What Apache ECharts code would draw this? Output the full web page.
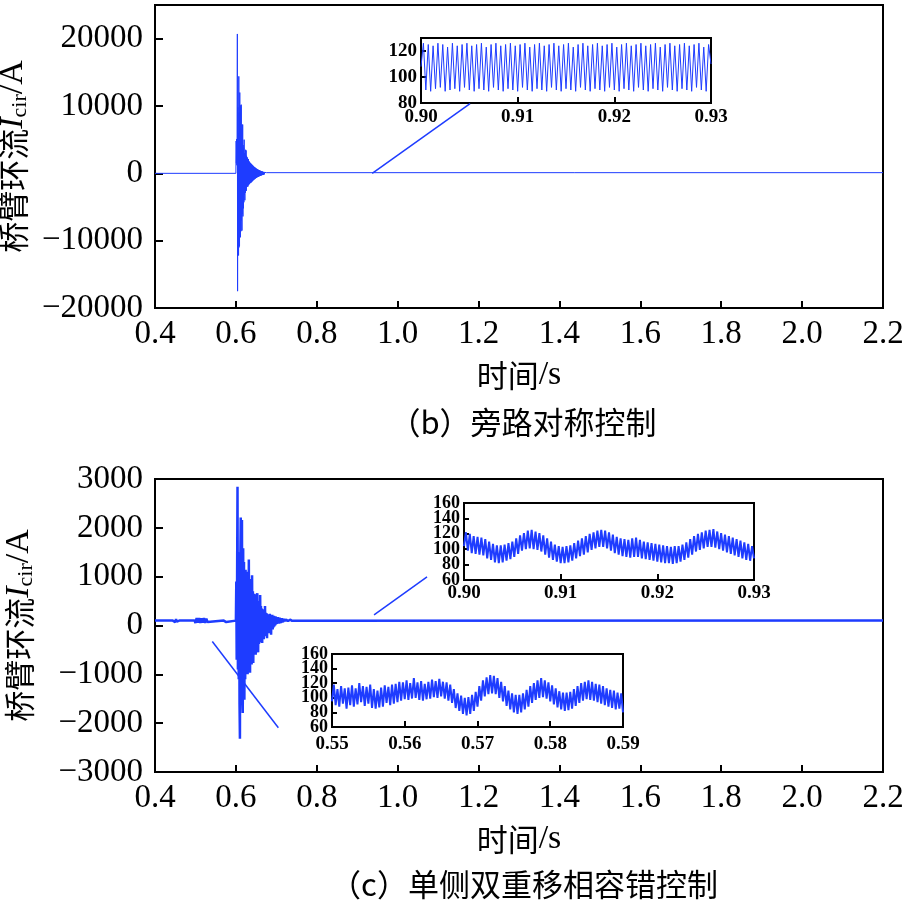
<!DOCTYPE html>
<html><head><meta charset="utf-8">
<script src="https://cdn.jsdelivr.net/npm/echarts/dist/echarts.min.js"></script>
<style>html,body{margin:0;padding:0;background:#fff}#c{width:904px;height:904px}</style>
</head><body><div id="c"></div>
<script>
// ---------------- DATA ----------------
// (b) bypass symmetric control - main trace
const bPre = [[0.4, 0], [0.6, 0]];
const bBurstStart = 0.6006, bBurstStep = 0.0006;
const bBurst = [4800, 1500, 5100, 1200, 4600, 20700, -17500, 9800, -9600, 6000,
  -12200, 14400, -11000, 9000, -10800, 12000, -8000, 10100, -9500, 9900,
  -8600, 10200, -7000, 6500, -8500, 7200, -6000, 7250, -6400, 4200,
  -5200, 3800, -4300, 5000, -3200, 3000, -4000, 2500, -2900, 3500,
  -2200, 3400, -2600, 2600, -2000, 2400, -1900, 2300, -2000, 2000,
  -1800, 2100, -1700, 1800, -1600, 1700, -1500, 1600, -1450, 1500,
  -1400, 1450, -1350, 1350, -1250, 1300, -1200, 1200, -1100, 1150,
  -1050, 1050, -980, 1000, -920, 940, -860, 880, -800, 820,
  -740, 760, -700, 700, -650, 660, -600, 610, -560, 570,
  -520, 530, -480, 490, -450, 450, -420, 420, -380, 390,
  -350, 360, -320, 330, -300, 300, -270, 270, -250, 250,
  -220, 230, -200, 200, -180, 180, -150, 150, -120, 120,
  -90, 90, -50, 0];
const bPost = [[0.676, 100], [2.2, 100]];
// (b) inset 0.90-0.93 s
const bInsetRange = [0.90, 0.93];
const bInset = [108, 126, 90, 125, 89, 124, 91, 126, 92, 125, 89, 123, 90, 126, 91, 124, 89, 125, 92, 126,
  90, 124, 89, 125, 91, 126, 90, 123, 89, 125, 92, 126, 90, 124, 89, 125, 91, 126, 90, 124,
  89, 125, 92, 126, 90, 123, 89, 125, 91, 126, 90, 124, 89, 125, 92, 126, 90, 124, 89, 125,
  91, 126, 90, 123, 89, 125, 92, 126, 90, 124, 89, 125, 91, 126, 90, 124, 89, 125, 92, 126,
  90, 123, 89, 125, 91, 126, 90, 124, 89, 125, 92, 126, 90, 124, 89, 125, 91, 126, 90, 123,
  89, 125, 92, 126, 90, 124, 89, 125, 91, 126, 90, 124, 89, 125, 92, 126, 90, 123, 89, 125, 110];
const bLink = [[0.937, 0], [1.179, 10340]];

// (c) single-side double phase-shift fault-tolerant control - main trace
const cPre = [[0.400, 100], [0.444, 100], [0.446, 60], [0.448, 140], [0.450, 70], [0.452, 130], [0.454, 80],
  [0.456, 120], [0.460, 100], [0.498, 100], [0.500, 50], [0.503, 150], [0.506, 60], [0.509, 150],
  [0.512, 50], [0.515, 145], [0.518, 60], [0.521, 150], [0.524, 55], [0.527, 140], [0.530, 70],
  [0.532, 100], [0.570, 100], [0.572, 60], [0.574, 140], [0.576, 70], [0.578, 100], [0.600, 100]];
const cBurstStart = 0.601, cBurstStep = 0.001;
const cBurst = [900, -700, 1000, 2840, -900, 1200, -1100, 1500, -1600, -2320,
  1400, 2210, -1300, 1600, 2160, -1500, -1790, 1580, -1200, 1300,
  -1520, 1000, -1100, 1140, -1000, 1100, -970, 900, -1000, 1000,
  -800, 1350, -900, 950, -970, 800, -700, 900, -800, 1030,
  -650, 700, -770, 600, -600, 650, -550, 550, -600, 500,
  -450, 600, 660, -400, -550, 450, -380, 500, -350, 625,
  -300, 400, -330, 350, -360, 330, -250, 300, -280, 320,
  -220, 400, -200, 260, -180, 250, -260, 230, -150, 220,
  -120, 200, -160, 240, -100, 190, -190, 200, -60, 220,
  -80, 180, -40, 200, -20, 180, 0, 190, 20, 170,
  30, 160, 40, 170, 50, 150, 40, 160, 60, 150,
  50, 140, 70, 150, 60, 140, 70, 130, 80, 140,
  80, 130, 80, 125, 85, 130, 85, 120, 90, 120,
  90, 115, 90, 120, 95, 115, 95, 110, 95, 110];
const cPost = [[0.742, 100], [2.2, 100]];
// (c) inset 1: 0.90-0.93 s
const c1Range = [0.90, 0.93];
const c1Inset = [104, 122, 98, 120, 95, 117, 94, 116, 93, 115, 92, 113, 88, 110, 86, 107, 83, 105, 82, 105,
  83, 106, 85, 108, 87, 110, 90, 114, 94, 118, 98, 121, 100, 124, 101, 125, 100, 123, 99, 121,
  97, 118, 93, 114, 89, 110, 86, 106, 84, 104, 82, 103, 82, 104, 83, 105, 85, 108, 88, 111,
  91, 114, 93, 117, 96, 120, 99, 122, 101, 124, 103, 125, 103, 124, 101, 122, 98, 119, 95, 116,
  93, 114, 91, 113, 90, 112, 89, 114, 90, 115, 90, 112, 88, 110, 87, 109, 86, 108, 85, 107,
  84, 106, 83, 105, 82, 104, 82, 103, 81, 104, 82, 104, 84, 106, 86, 109, 89, 113, 93, 117,
  97, 120, 99, 122, 101, 124, 103, 125, 103, 126, 102, 123, 100, 121, 98, 119, 96, 117, 94, 115,
  92, 113, 90, 111, 88, 109, 86, 107, 85, 104, 88];
const c1Link = [[0.9416, 218], [1.0726, 994]];
// (c) inset 2: 0.55-0.59 s
const c2Range = [0.55, 0.59];
const c2Inset = [95, 118, 90, 112, 88, 116, 92, 113, 85, 114, 90, 117, 88, 113, 91, 120, 94, 116, 89, 115,
  92, 118, 86, 112, 85, 110, 87, 114, 88, 117, 93, 115, 90, 118, 92, 119, 94, 122, 96, 121,
  98, 124, 97, 120, 99, 127, 100, 121, 97, 123, 96, 119, 98, 122, 99, 125, 101, 123, 100, 126,
  102, 122, 99, 121, 96, 118, 93, 112, 86, 106, 82, 103, 78, 100, 76, 101, 78, 104, 82, 108,
  88, 116, 96, 124, 102, 128, 105, 131, 106, 130, 105, 127, 100, 122, 95, 116, 89, 110, 84, 106,
  80, 104, 78, 104, 80, 106, 84, 111, 88, 116, 93, 120, 97, 124, 100, 127, 101, 124, 99, 121,
  95, 117, 91, 113, 87, 109, 84, 107, 82, 107, 83, 108, 85, 112, 89, 116, 93, 120, 96, 122,
  98, 124, 97, 122, 96, 119, 94, 118, 92, 116, 90, 113, 88, 111, 86, 110, 84, 107, 85, 106, 80];
const c2Link = [[0.5417, -327], [0.705, -2094]];

// ---------------- BUILD ----------------
const BLUE = '#1e3cff';
const SERIF = '"Liberation Serif", "Times New Roman", serif';
const CJK = '"Noto Sans CJK SC", sans-serif';
const fromStep = (t0, dt, vals) => vals.map((v, i) => [+(t0 + dt * i).toFixed(6), v]);
const fromRange = (r, vals) => vals.map((v, i) => [r[0] + (r[1] - r[0]) * i / (vals.length - 1), v]);
const minus = v => String(v).replace('-', '\u2212');

const bMain = bPre.concat(fromStep(bBurstStart, bBurstStep, bBurst), bPost);
const cMain = cPre.concat(fromStep(cBurstStart, cBurstStep, cBurst), cPost);

const blk = '#000';
function mainX(gi) {
  return {
    gridIndex: gi, type: 'value', min: 0.4, max: 2.2, interval: 0.2,
    name: '{c|时间}{r|/s}', nameLocation: 'middle', nameGap: 50,
    nameTextStyle: { rich: { c: { fontSize: 31, fontFamily: CJK, color: blk }, r: { fontSize: 34, fontFamily: SERIF, color: blk } } },
    axisLine: { show: true, onZero: false, lineStyle: { color: blk, width: 2 } },
    axisTick: { inside: true, length: 7, lineStyle: { color: blk, width: 2 } },
    axisLabel: { fontSize: 33, fontFamily: SERIF, color: blk, margin: 10, formatter: v => v.toFixed(1) },
    splitLine: { show: false }
  };
}
function mainY(gi, min, max, interval, top) {
  return {
    gridIndex: gi, type: 'value', min, max, interval,
    name: '{a|桥臂环流}{i|I}{s|cir}{b|/A}', nameLocation: 'middle', nameRotate: 90, nameGap: 118,
    nameTextStyle: { rich: {
      a: { fontSize: 31, fontFamily: CJK, color: blk, lineHeight: 36 },
      i: { fontSize: 34, fontFamily: SERIF, fontStyle: 'italic', color: blk, lineHeight: 36 },
      s: { fontSize: 22, fontFamily: SERIF, color: blk, verticalAlign: 'bottom', lineHeight: 36, padding: [14, 0, 0, 0] },
      b: { fontSize: 34, fontFamily: SERIF, color: blk, lineHeight: 36 } } },
    axisLine: { show: true, onZero: false, lineStyle: { color: blk, width: 2 } },
    axisTick: { inside: true, length: 8, lineStyle: { color: blk, width: 2 } },
    axisLabel: { fontSize: 33, fontFamily: SERIF, color: blk, margin: 12, formatter: v => v > top ? '' : minus(v) },
    splitLine: { show: false }
  };
}
function insetX(gi, min, max, margin) {
  return {
    gridIndex: gi, type: 'value', min, max, interval: 0.01,
    axisLine: { show: true, onZero: false, lineStyle: { color: blk, width: 2 } },
    axisTick: { inside: true, length: 6, lineStyle: { color: blk, width: 2 } },
    axisLabel: { fontSize: 19, fontWeight: 'bold', fontFamily: SERIF, color: blk, margin,
      showMinLabel: true, showMaxLabel: true, formatter: v => v.toFixed(2) },
    splitLine: { show: false }
  };
}
// keep: predicate deciding which tick values get a label on this axis
function insetY(gi, min, max, fs, keep, showLine) {
  return {
    gridIndex: gi, type: 'value', position: 'left', offset: 0, min, max, interval: 20,
    axisLine: { show: showLine, onZero: false, lineStyle: { color: blk, width: 2 } },
    axisTick: { show: showLine, inside: true, length: 5, lineStyle: { color: blk, width: 2 } },
    axisLabel: { fontSize: fs, fontWeight: 'bold', fontFamily: SERIF, color: blk, margin: 4,
      showMinLabel: true, showMaxLabel: true, formatter: v => keep(v) ? String(v) : '' },
    splitLine: { show: false }
  };
}
const gridBase = { show: true, borderColor: blk, borderWidth: 2, backgroundColor: '#fff', containLabel: false, outerBoundsMode: 'none' };
const line = (xi, yi, data, w) => ({
  type: 'line', xAxisIndex: xi, yAxisIndex: yi, data, showSymbol: false, symbol: 'none',
  lineStyle: { color: BLUE, width: w }, itemStyle: { color: BLUE }, animation: false, silent: true
});
const evenA = v => (v - 60) % 40 === 0;   // 60, 100, 140
const evenB = v => (v - 80) % 40 === 0;   // 80, 120, 160

const option = {
  animation: false,
  backgroundColor: '#fff',
  grid: [
    Object.assign({ left: 155, top: 5, width: 728, height: 303 }, gridBase),
    Object.assign({ left: 421, top: 38, width: 290, height: 65 }, gridBase),
    Object.assign({ left: 155, top: 479, width: 728, height: 293 }, gridBase),
    Object.assign({ left: 464, top: 503, width: 290, height: 77 }, gridBase),
    Object.assign({ left: 332, top: 654, width: 291, height: 73 }, gridBase)
  ],
  xAxis: [mainX(0), insetX(1, 0.90, 0.93, 5), mainX(2), insetX(3, 0.90, 0.93, 4), insetX(4, 0.55, 0.59, 8)],
  yAxis: [
    mainY(0, -20000, 25000, 10000, 20000),
    insetY(1, 80, 130, 19, v => v <= 120, true),
    mainY(2, -3000, 3000, 1000, 3000),
    insetY(3, 60, 160, 18, evenA, true),
    insetY(4, 60, 160, 18, evenA, true),
    insetY(3, 60, 160, 18, evenB, false),
    insetY(4, 60, 160, 18, evenB, false)
  ],
  series: [
    line(0, 0, bMain, 1),
    line(0, 0, bLink, 1.5),
    line(1, 1, fromRange(bInsetRange, bInset), 1),
    line(2, 2, cMain, 2.5),
    line(2, 2, c1Link, 1.5),
    line(2, 2, c2Link, 1.5),
    line(3, 3, fromRange(c1Range, c1Inset), 2),
    line(4, 4, fromRange(c2Range, c2Inset), 2)
  ],
  graphic: [
    { type: 'text', x: 523, y: 422, style: { text: '（b）旁路对称控制', fontSize: 31, fontFamily: CJK, fill: blk, align: 'center', verticalAlign: 'middle' } },
    { type: 'text', x: 524, y: 884, style: { text: '（c）单侧双重移相容错控制', fontSize: 31, fontFamily: CJK, fill: blk, align: 'center', verticalAlign: 'middle' } }
  ]
};
const chart = echarts.init(document.getElementById('c'), null, { renderer: 'canvas' });
chart.setOption(option);
</script></body></html>
